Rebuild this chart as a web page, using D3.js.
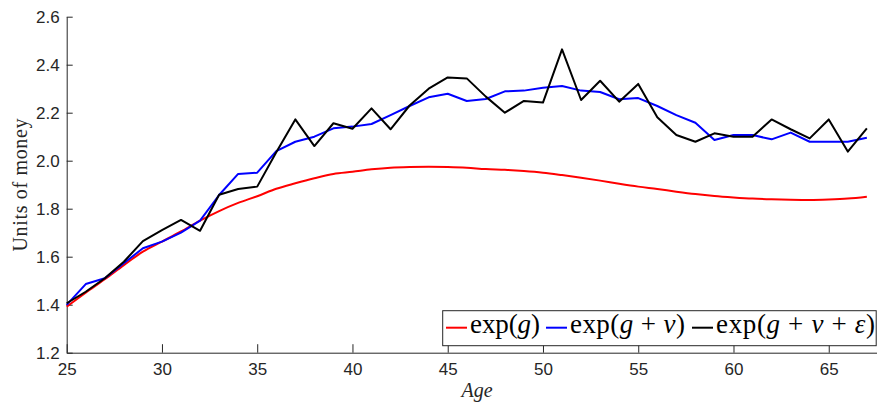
<!DOCTYPE html>
<html>
<head>
<meta charset="utf-8">
<script src="https://cdn.jsdelivr.net/npm/d3@7"></script>
<style>
  body { margin: 0; background: #fff; }
  svg { display: block; }
</style>
</head>
<body>
<div id="chart"></div>
<script>
// ages on the x axis
const ages = [25, 26, 27, 28, 29, 30, 31, 32, 33, 34, 35, 36, 37, 38, 39, 40, 41, 42, 43, 44, 45,
              46, 47, 48, 49, 50, 51, 52, 53, 54, 55, 56, 57, 58, 59, 60, 61, 62, 63, 64, 65, 66, 67];

// exp(g) - smooth red curve
const expG = [1.392, 1.450, 1.506, 1.565, 1.621, 1.663, 1.705, 1.750, 1.790, 1.824, 1.852, 1.883, 1.906,
              1.927, 1.945, 1.954, 1.964, 1.971, 1.974, 1.975, 1.974, 1.971, 1.965, 1.962, 1.957, 1.950,
              1.940, 1.929, 1.917, 1.904, 1.892, 1.882, 1.871, 1.861, 1.853, 1.847, 1.842, 1.839, 1.837,
              1.836, 1.838, 1.842, 1.850];

// exp(g + v) - blue
const expGV = [1.399, 1.486, 1.510, 1.573, 1.635, 1.663, 1.700, 1.750, 1.857, 1.945, 1.950, 2.040, 2.079,
               2.100, 2.135, 2.142, 2.153, 2.190, 2.228, 2.264, 2.279, 2.249, 2.257, 2.289, 2.292, 2.304,
               2.311, 2.292, 2.286, 2.256, 2.261, 2.228, 2.190, 2.158, 2.086, 2.107, 2.107, 2.089, 2.117,
               2.079, 2.079, 2.079, 2.096];

// exp(g + v + eps) - black
const expGVE = [1.406, 1.454, 1.510, 1.579, 1.665, 1.711, 1.753, 1.708, 1.858, 1.882, 1.892, 2.035, 2.172,
                2.061, 2.156, 2.133, 2.218, 2.131, 2.230, 2.300, 2.347, 2.343, 2.267, 2.200, 2.249, 2.242,
                2.464, 2.253, 2.333, 2.246, 2.320, 2.181, 2.107, 2.079, 2.114, 2.100, 2.100, 2.172, 2.131,
                2.093, 2.172, 2.038, 2.135];

const xTicks = [25, 30, 35, 40, 45, 50, 55, 60, 65];
const yTicks = [1.2, 1.4, 1.6, 1.8, 2.0, 2.2, 2.4, 2.6];

const width = 877;
const height = 403;
const axisColor = "#262626";
const tickFont = "'Liberation Sans', Arial, Helvetica, sans-serif";
const serif = "'Liberation Serif', 'Times New Roman', serif";

const svg = d3.select("#chart")
    .append("svg")
    .attr("width", width)
    .attr("height", height);

const x = d3.scaleLinear().domain([25, 68]).range([66.7, 885.9]);
const y = d3.scaleLinear().domain([1.2, 2.6]).range([352.7, 16.7]);

// x axis, ticks pointing into the plot
const xAxis = svg.append("g")
    .attr("transform", `translate(0, ${y(1.2)})`)
    .call(d3.axisBottom(x)
        .tickValues(xTicks)
        .tickSizeInner(-8.5)
        .tickSizeOuter(0)
        .tickPadding(10)
        .tickFormat(d3.format("d")));

// y axis
const yAxis = svg.append("g")
    .attr("transform", `translate(${x(25)}, 0)`)
    .call(d3.axisLeft(y)
        .tickValues(yTicks)
        .tickSizeInner(-6)
        .tickSizeOuter(0)
        .tickPadding(7)
        .tickFormat(d3.format(".1f")));

[xAxis, yAxis].forEach(ax => {
    ax.select(".domain").attr("stroke", axisColor).attr("stroke-width", 1);
    ax.selectAll(".tick line").attr("stroke", axisColor).attr("stroke-width", 1);
    ax.selectAll(".tick text")
        .attr("fill", axisColor)
        .style("font-family", tickFont)
        .style("font-size", "17px");
});

// series lines
const series = [
    { values: expG, color: "#ff0000", curve: d3.curveMonotoneX },
    { values: expGV, color: "#0000ff", curve: d3.curveLinear },
    { values: expGVE, color: "#000000", curve: d3.curveLinear }
];

series.forEach(s => {
    const line = d3.line()
        .x((d, i) => x(ages[i]))
        .y(d => y(d))
        .curve(s.curve);
    svg.append("path")
        .datum(s.values)
        .attr("d", line)
        .attr("fill", "none")
        .attr("stroke", s.color)
        .attr("stroke-width", 2)
        .attr("stroke-linejoin", "round");
});

// axis labels
svg.append("text")
    .attr("transform", `translate(26.7, 185) rotate(-90)`)
    .attr("text-anchor", "middle")
    .attr("textLength", 133)
    .style("font-family", serif)
    .style("font-size", "20px")
    .attr("fill", axisColor)
    .text("Units of money");

svg.append("text")
    .attr("x", 477)
    .attr("y", 397)
    .attr("text-anchor", "middle")
    .style("font-family", serif)
    .style("font-style", "italic")
    .style("font-size", "20px")
    .attr("fill", axisColor)
    .text("Age");

// legend
const legend = svg.append("g");
legend.append("rect")
    .attr("x", 442.7)
    .attr("y", 310.7)
    .attr("width", 433.5)
    .attr("height", 35)
    .attr("fill", "#fff")
    .attr("stroke", axisColor)
    .attr("stroke-width", 1);

const legendItems = [
    { color: "#ff0000", x0: 446, x1: 467, tx: 470, tw: 70,
      parts: [["exp(", false], ["g", true], [")", false]] },
    { color: "#0000ff", x0: 546, x1: 567, tx: 570, tw: 115,
      parts: [["exp(", false], ["g", true], [" + ", false], ["v", true], [")", false]] },
    { color: "#000000", x0: 692, x1: 713, tx: 716, tw: 159,
      parts: [["exp(", false], ["g", true], [" + ", false], ["v", true], [" + ", false], ["\u03b5", true], [")", false]] }
];

legendItems.forEach(item => {
    legend.append("line")
        .attr("x1", item.x0).attr("x2", item.x1)
        .attr("y1", 327.7).attr("y2", 327.7)
        .attr("stroke", item.color)
        .attr("stroke-width", 2);
    const t = legend.append("text")
        .attr("x", item.tx)
        .attr("y", 333)
        .attr("textLength", item.tw)
        .style("font-family", serif)
        .style("font-size", "27px")
        .attr("fill", "#000")
        .style("white-space", "pre");
    item.parts.forEach(p => {
        t.append("tspan")
            .style("font-style", p[1] ? "italic" : "normal")
            .text(p[0]);
    });
});
</script>
</body>
</html>
